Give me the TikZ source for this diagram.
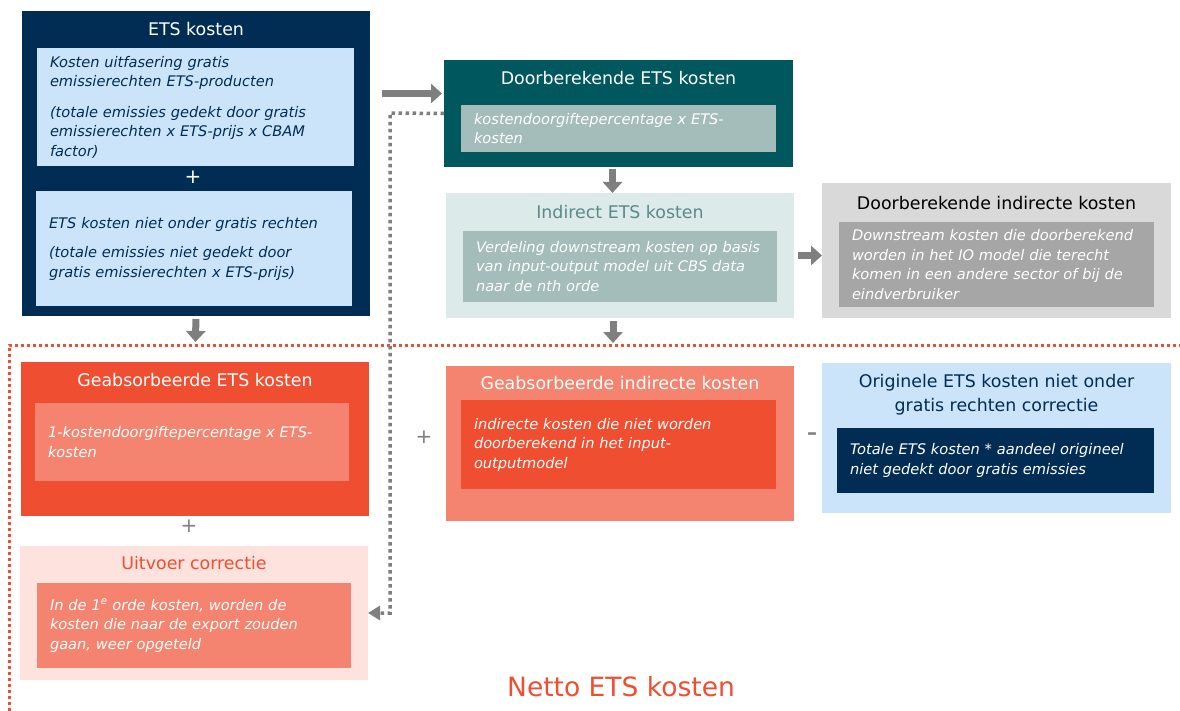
\documentclass[tikz,border=0pt]{standalone}
\usepackage{fontspec}
\setmainfont{DejaVu Sans}
\usepackage{tikz}
\usetikzlibrary{arrows.meta,positioning}
\definecolor{navy}{HTML}{012D55}
\definecolor{skyblue}{HTML}{CCE4FA}
\definecolor{teal}{HTML}{00575D}
\definecolor{tealgrey}{HTML}{A4BDBA}
\definecolor{tealpale}{HTML}{DDEAEA}
\definecolor{tealtext}{HTML}{5B8A87}
\definecolor{greybox}{HTML}{D9D9D9}
\definecolor{greyin}{HTML}{A6A6A6}
\definecolor{netred}{HTML}{EF4E31}
\definecolor{salmon}{HTML}{F4846F}
\definecolor{blush}{HTML}{FDE2DD}
\definecolor{arrowgrey}{HTML}{7F7F7F}
\newcommand{\bodyfont}{\fontsize{14.6}{19.5}\selectfont\itshape}
\newcommand{\titlefont}{\fontsize{17.4}{24}\selectfont}

\begin{document}
\begin{tikzpicture}[
    x=1pt,y=-1pt,
    panel/.style={anchor=north west,inner sep=0pt,outer sep=0pt},
    inbox/.style={anchor=north west,inner xsep=13pt,inner ysep=0pt,outer sep=0pt,align=left,font=\bodyfont,text=white},
    ttl/.style={font=\titlefont,inner sep=0pt,align=center},
    sign/.style={font=\fontsize{20}{20}\selectfont,text=arrowgrey,inner sep=0pt},
    blockarrow/.style={-{Triangle[length=11pt,width=19pt]},line width=7pt,arrowgrey},
    dotarrow/.style={-{Triangle[length=12pt,width=14pt]},line width=3.5pt,arrowgrey,dash pattern=on 3.5pt off 3.5pt},
    netline/.style={netred,line width=3pt,dash pattern=on 3pt off 3pt}
  ]
    \useasboundingbox[fill=white] (0,0) rectangle (1180,711);

    % top row: ETS kosten and what is passed on
    \node[panel,fill=navy,minimum width=348pt,minimum height=305pt] (ets) at (22,11) {};
    \node[ttl,text=white] (etsttl) at ([yshift=-18pt]ets.north) {ETS kosten};
    \node[inbox,fill=skyblue,text=navy,text width=291pt,minimum height=118pt] (etsfree) at (37,48)
      {Kosten uitfasering gratis\\emissierechten ETS-producten\\[11pt]
       (totale emissies gedekt door gratis\\emissierechten x ETS-prijs x CBAM\\factor)};
    \node[sign,text=white] (etsplus) at (193,177) {+};
    \node[inbox,fill=skyblue,text=navy,text width=290pt,minimum height=115pt] (etsrest) at (36,191)
      {ETS kosten niet onder gratis rechten\\[10pt]
       (totale emissies niet gedekt door\\gratis emissierechten x ETS-prijs)};

    \node[panel,fill=teal,minimum width=349pt,minimum height=107pt] (doorb) at (444,60) {};
    \node[ttl,text=white] (doorbttl) at ([yshift=-18pt]doorb.north) {Doorberekende ETS kosten};
    \node[inbox,fill=tealgrey,text width=289pt,minimum height=47pt] (doorbin) at (461,105)
      {kostendoorgiftepercentage x ETS-\\kosten};

    \node[panel,fill=tealpale,minimum width=348pt,minimum height=125pt] (indirect) at (446,193) {};
    \node[ttl,text=tealtext] (indirectttl) at ([yshift=-19pt]indirect.north) {Indirect ETS kosten};
    \node[inbox,fill=tealgrey,text width=288pt,minimum height=71pt] (indirectin) at (463,231)
      {Verdeling downstream kosten op basis\\van input-output model uit CBS data\\naar de nth orde};

    \node[panel,fill=greybox,minimum width=349pt,minimum height=135pt] (doorbind) at (822,183) {};
    \node[ttl,text=black] (doorbindttl) at ([yshift=-20pt]doorbind.north) {Doorberekende indirecte kosten};
    \node[inbox,fill=greyin,text width=289pt,minimum height=85pt] (doorbindin) at (839,222)
      {Downstream kosten die doorberekend\\worden in het IO model die terecht\\komen in een andere sector of bij de\\eindverbruiker};

    % bottom part: netto
    \node[panel,fill=netred,minimum width=348pt,minimum height=154pt] (geabs) at (21,362) {};
    \node[ttl,text=white] (geabsttl) at ([yshift=-18pt]geabs.north) {Geabsorbeerde ETS kosten};
    \node[inbox,fill=salmon,text width=288pt,minimum height=78pt] (geabsin) at (35,403)
      {1-kostendoorgiftepercentage x ETS-\\kosten};
    \node[sign] (geabsplus) at (189,526) {+};

    \node[panel,fill=blush,minimum width=348pt,minimum height=134pt] (uitvoer) at (20,546) {};
    \node[ttl,text=netred] (uitvoerttl) at ([yshift=-17pt]uitvoer.north) {Uitvoer correctie};
    \node[inbox,fill=salmon,text width=288pt,minimum height=85pt] (uitvoerin) at (37,583)
      {In de 1\textsuperscript{e} orde kosten, worden de\\kosten die naar de export zouden\\gaan, weer opgeteld};

    \node[sign] (midplus) at (424,437) {+};
    \node[panel,fill=salmon,minimum width=348pt,minimum height=155pt] (geabsind) at (446,366) {};
    \node[ttl,text=white] (geabsindttl) at ([yshift=-17pt]geabsind.north) {Geabsorbeerde indirecte kosten};
    \node[inbox,fill=netred,text width=289pt,minimum height=89pt] (geabsindin) at (461,400)
      {indirecte kosten die niet worden\\doorberekend in het input-\\outputmodel};

    \node[sign] (minus) at (812,436) {\textbf{--}};
    \node[panel,fill=skyblue,minimum width=349pt,minimum height=150pt] (orig) at (822,363) {};
    \node[ttl,text=navy] (origttl) at ([yshift=-32pt]orig.north) {Originele ETS kosten niet onder\\gratis rechten correctie};
    \node[inbox,fill=navy,text width=291pt,minimum height=65pt] (origin) at (837,428)
      {Totale ETS kosten * aandeel origineel\\niet gedekt door gratis emissies};

    \node[font=\fontsize{26.5}{30}\selectfont,text=netred] (netto) at (621,687) {Netto ETS kosten};
    \draw[netline] (9,711) -- (9,345) -- (1180,345);

    % arrows
    \draw[blockarrow,shorten <=12pt] ([yshift=20pt]doorb.west -| ets.east) -- ([yshift=20pt,xshift=-2pt]doorb.west);
    \draw[blockarrow,shorten <=2pt] ([xshift=-6pt]doorb.south) -- ([xshift=-6pt]doorb.south |- indirect.north);
    \draw[blockarrow,shorten <=3pt,shorten >=23pt] ([xshift=-7pt]indirect.south) -- ([xshift=-7pt]indirect.south |- geabsind.north);
    \draw[blockarrow,shorten <=4pt] (indirect.east) -- (indirect.east -| doorbind.west);
    \draw[blockarrow,shorten <=3pt,shorten >=20pt] (ets.south) -- (geabs.north);
    \coordinate (bend) at (390,113);
    \draw[dotarrow] (doorb.west) -- (bend) |- (uitvoer.east);
  \end{tikzpicture}
\end{document}
